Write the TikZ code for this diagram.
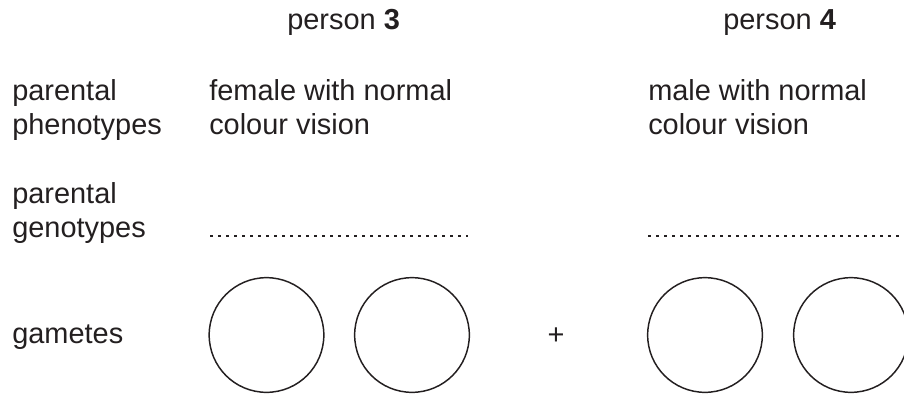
\documentclass[tikz,border=0pt]{standalone}
\usepackage{fontspec}
\setmainfont{Liberation Sans}
\definecolor{ink}{HTML}{231F20}
\begin{document}
\begin{tikzpicture}[x=0.75pt,y=-0.75pt,
  lbl/.style={anchor=base west,inner sep=0pt,align=left,text=ink,
    font=\fontsize{21.7pt}{25.5pt}\selectfont},
  gamete/.style={circle,draw=ink,line width=1.1pt,minimum size=86pt,inner sep=0pt},
  answerline/.style={draw=ink,line width=2pt,dash pattern=on 2pt off 4pt}]
\useasboundingbox (0,0) rectangle (904,397);
\node[lbl] (p3) at (287,29) {person \textbf{3}};
\node[lbl] (p4) at (723,29) {person \textbf{4}};
\node[lbl] (phen) at (12,134) {parental\\phenotypes};
\node[lbl] (gen) at (12,237) {parental\\genotypes};
\node[lbl] (gam) at (12,343) {gametes};
\node[lbl] (f3) at (209,134) {female with normal\\colour vision};
\node[lbl] (m4) at (648,134) {male with normal\\colour vision};
\coordinate (d3a) at (210,236);
\coordinate (d3b) at (468,236);
\coordinate (d4a) at (648,236);
\coordinate (d4b) at (910,236);
\draw[answerline] (d3a) -- (d3b);
\begin{scope}
\clip (0,0) rectangle (904,397);
\draw[answerline] (d4a) -- (d4b);
\node[gamete] (c1) at (266.5,335) {};
\node[gamete] (c2) at (412,335) {};
\node[gamete] (c3) at (705,335) {};
\node[gamete] (c4) at (851,335) {};
\end{scope}
\node[lbl,anchor=center] (plus) at (556,336) {+};
\end{tikzpicture}
\end{document}
